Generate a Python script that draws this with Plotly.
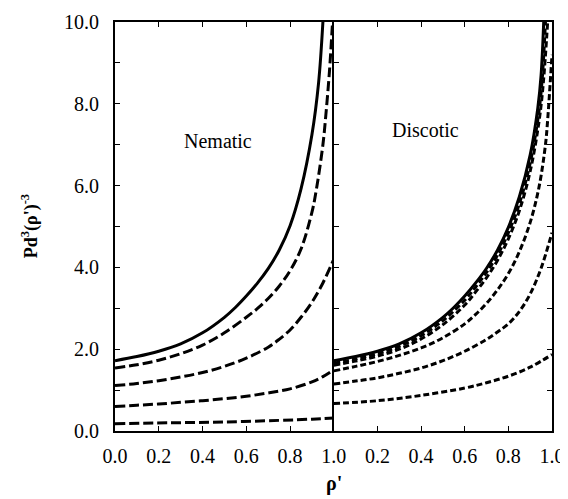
import plotly.graph_objects as go

# ---- data ----
# Nematic panel
nem_x1 = [0.0, 0.1, 0.2, 0.3, 0.4, 0.5, 0.55, 0.6, 0.65, 0.7, 0.75, 0.8, 0.85, 0.9, 0.93, 0.95]
nem_y1 = [1.72, 1.82, 1.95, 2.13, 2.40, 2.78, 3.02, 3.30, 3.61, 3.97, 4.42, 5.02, 5.92, 7.25, 8.5, 10.0]
nem_x2 = [0.0, 0.1, 0.2, 0.3, 0.4, 0.5, 0.6, 0.65, 0.7, 0.75, 0.8, 0.85, 0.9, 0.92, 0.95, 0.963, 0.98, 0.994]
nem_y2 = [1.54, 1.62, 1.73, 1.89, 2.10, 2.40, 2.78, 2.99, 3.24, 3.54, 3.92, 4.45, 5.35, 5.9, 7.0, 7.7, 8.8, 10.0]
nem_x3 = [0.0, 0.1, 0.2, 0.3, 0.4, 0.5, 0.6, 0.7, 0.75, 0.8, 0.85, 0.9, 0.95, 1.0]
nem_y3 = [1.11, 1.16, 1.23, 1.32, 1.43, 1.58, 1.78, 2.05, 2.24, 2.47, 2.78, 3.15, 3.62, 4.2]
nem_x4 = [0.0, 0.1, 0.2, 0.3, 0.4, 0.5, 0.6, 0.7, 0.8, 0.9, 0.95, 1.0]
nem_y4 = [0.60, 0.63, 0.66, 0.70, 0.74, 0.79, 0.85, 0.93, 1.03, 1.2, 1.33, 1.50]
nem_x5 = [0.0, 0.25, 0.5, 0.75, 0.9, 1.0]
nem_y5 = [0.18, 0.20, 0.22, 0.26, 0.29, 0.32]

# Discotic panel
dis_x1 = [0.0, 0.1, 0.2, 0.3, 0.4, 0.5, 0.55, 0.6, 0.65, 0.7, 0.75, 0.8, 0.85, 0.9, 0.935, 0.95, 0.962]
dis_y1 = [1.72, 1.82, 1.95, 2.13, 2.40, 2.78, 3.02, 3.30, 3.62, 3.98, 4.42, 4.98, 5.72, 6.75, 7.9, 8.7, 10.0]
dis_x2 = [0.0, 0.1, 0.2, 0.3, 0.4, 0.5, 0.6, 0.65, 0.7, 0.75, 0.8, 0.85, 0.9, 0.94, 0.955, 0.97]
dis_y2 = [1.66, 1.76, 1.89, 2.07, 2.33, 2.70, 3.20, 3.52, 3.88, 4.3, 4.85, 5.55, 6.55, 7.8, 8.6, 10.0]
dis_x3 = [0.0, 0.1, 0.2, 0.3, 0.4, 0.5, 0.6, 0.65, 0.7, 0.75, 0.8, 0.85, 0.9, 0.94, 0.96, 0.98]
dis_y3 = [1.61, 1.71, 1.83, 2.0, 2.25, 2.6, 3.08, 3.4, 3.75, 4.17, 4.7, 5.38, 6.35, 7.55, 8.5, 10.0]
dis_x4 = [0.0, 0.1, 0.2, 0.3, 0.4, 0.5, 0.6, 0.65, 0.7, 0.75, 0.8, 0.85, 0.9, 0.94, 0.97, 0.98, 1.0]
dis_y4 = [1.47, 1.58, 1.70, 1.85, 2.03, 2.28, 2.62, 2.85, 3.12, 3.45, 3.85, 4.38, 5.1, 5.95, 7.0, 7.6, 9.2]
dis_x5 = [0.0, 0.1, 0.2, 0.3, 0.4, 0.5, 0.6, 0.7, 0.75, 0.8, 0.85, 0.9, 0.95, 1.0]
dis_y5 = [1.15, 1.22, 1.30, 1.41, 1.54, 1.72, 1.95, 2.24, 2.42, 2.62, 2.92, 3.35, 3.98, 4.85]
dis_x6 = [0.0, 0.2, 0.4, 0.6, 0.7, 0.8, 0.9, 1.0]
dis_y6 = [0.67, 0.74, 0.87, 1.05, 1.18, 1.34, 1.56, 1.87]

x_ticks = [0.0, 0.2, 0.4, 0.6, 0.8, 1.0]
x_ticks2 = [0.2, 0.4, 0.6, 0.8, 1.0]
y_ticks = [0.0, 2.0, 4.0, 6.0, 8.0, 10.0]

FONT = "Liberation Serif"
fig = go.Figure()

def add(x, y, xa, ya, dash, width=3.0):
    fig.add_trace(go.Scatter(x=x, y=y, mode="lines", xaxis=xa, yaxis=ya,
                             line=dict(color="black", width=width, dash=dash, shape="spline", smoothing=1.0),
                             showlegend=False, hoverinfo="skip", cliponaxis=True))

nd = "10px,4px"
add(nem_x1, nem_y1, "x", "y", "solid")
add(nem_x2, nem_y2, "x", "y", nd)
add(nem_x3, nem_y3, "x", "y", nd)
add(nem_x4, nem_y4, "x", "y", nd)
add(nem_x5, nem_y5, "x", "y", nd)

dd = "6px,3px"
add(dis_x1, dis_y1, "x2", "y2", "solid")
add(dis_x2, dis_y2, "x2", "y2", dd)
add(dis_x3, dis_y3, "x2", "y2", dd)
add(dis_x4, dis_y4, "x2", "y2", dd)
add(dis_x5, dis_y5, "x2", "y2", dd)
add(dis_x6, dis_y6, "x2", "y2", dd)

tickfont = dict(family=FONT, size=20, color="black")
common_x = dict(range=[0, 1], showgrid=False, zeroline=False, showline=True, linecolor="black",
                linewidth=1.5, ticks="inside", ticklen=5, tickcolor="black", mirror="ticks",
                tickfont=tickfont, ticklabelstandoff=6, automargin=False)
fig.update_layout(
    width=568, height=499,
    margin=dict(l=107, r=24, t=14, b=76, autoexpand=False),
    paper_bgcolor="white", plot_bgcolor="white",
    xaxis=dict(domain=[0, 0.5008], anchor="y", tickvals=x_ticks,
               ticktext=[f"{v:.1f}" for v in x_ticks], **common_x),
    xaxis2=dict(domain=[0.5008, 1], anchor="y2", tickvals=x_ticks2,
                ticktext=[f"{v:.1f}" for v in x_ticks2], **common_x),
    yaxis=dict(range=[0, 10], anchor="x", showgrid=False, zeroline=False, showline=True,
               linecolor="black", linewidth=2, ticks="inside", ticklen=5, tickcolor="black",
               tickvals=y_ticks, ticktext=[f"{v:.1f}" for v in y_ticks], tickfont=tickfont,
               minor=dict(dtick=1, ticks="inside", ticklen=5, tickcolor="black"),
               ticklabelstandoff=10, automargin=False),
    yaxis2=dict(range=[0, 10], anchor="x2", showgrid=False, zeroline=False, showline=True,
                linecolor="black", linewidth=1.5, ticks="inside", ticklen=5, tickcolor="black",
                mirror="ticks", tickvals=y_ticks, showticklabels=False, automargin=False,
                minor=dict(dtick=1, ticks="inside", ticklen=5, tickcolor="black")),
    annotations=[
        dict(text="Nematic", x=0.47, y=7.09, xref="x", yref="y", showarrow=False,
             font=dict(family=FONT, size=20, color="black")),
        dict(text="Discotic", x=0.42, y=7.36, xref="x2", yref="y2", showarrow=False,
             font=dict(family=FONT, size=20, color="black")),
        dict(text="<b>ρ'</b>", x=0.5, y=-0.128, xref="paper", yref="paper", showarrow=False,
             xanchor="center", yanchor="middle",
             font=dict(family=FONT, size=20, color="black")),
        dict(text="<b>Pd<sup>3</sup>(ρ')<sup>-3</sup></b>", x=-0.195, y=0.5, xref="paper", yref="paper",
             showarrow=False, textangle=-90, xanchor="center", yanchor="middle",
             font=dict(family=FONT, size=18, color="black")),
    ],
)

fig.write_html("out.html")
